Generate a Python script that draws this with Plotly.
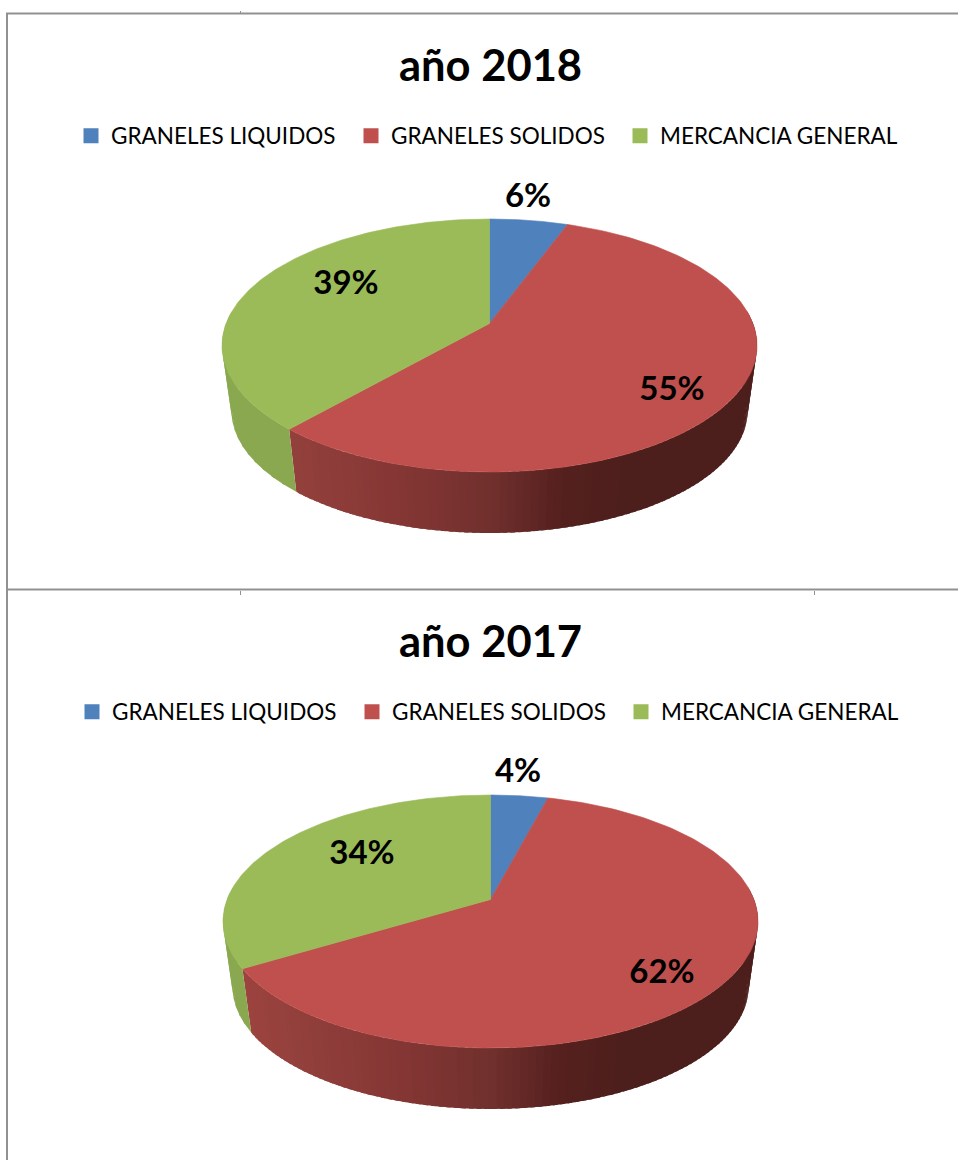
import math
import numpy as np
import plotly.graph_objects as go

# ---- data ----
categories = ["GRANELES LIQUIDOS", "GRANELES SOLIDOS", "MERCANCIA GENERAL"]
titles = ["año 2018", "año 2017"]
values_2018 = [5.6, 55.9, 38.5]
values_2017 = [4.1, 62.3, 33.6]
# percentages as printed on the chart
labels_2018 = ["6%", "55%", "39%"]
labels_2017 = ["4%", "62%", "34%"]

# ---- style ----
colors = ["#4f81bd", "#c0504d", "#9bbb59"]
W, H = 958, 1160
FONT = "Lato, Carlito, Calibri, sans-serif"
K = 0.174          # perspective shift of the pie centre
RX, RY = 267.5, 126.5
RXB, RYB, DROP = 258.0, 122.0, 65.5
red_stops = [(220, (160, 68, 64)), (290, (147, 64, 60)), (400, (132, 54, 52)),
             (490, (112, 48, 45)), (560, (85, 32, 30)), (620, (77, 31, 28)), (770, (77, 31, 28))]
side_flat = {0: (60, 96, 140), 2: (138, 168, 79)}

charts = [
    dict(title=titles[0], values=values_2018, labels=labels_2018, cx=489.5, cy=345.5, title_y=64, legend_y=136,
         legend_x=[71, 351, 620], label_xy=[(528, 198.5), (672, 391.5), (346, 285.5)],
         legends=["legend", "legend2", "legend3"]),
    dict(title=titles[1], values=values_2017, labels=labels_2017, cx=490.5, cy=921.5, title_y=640, legend_y=712,
         legend_x=[72, 352, 621], label_xy=[(518, 773.5), (662, 974.5), (362, 855.5)],
         legends=["legend4", "legend5", "legend6"]),
]


def rim(theta, cx, cy, rx, ry):
    u, v = np.sin(theta), np.cos(theta)
    d = 1 + K * v
    return cx + rx * u * math.sqrt(1 - K * K) / d, cy - ry * (v + K) / d


def side_color(i, x):
    if i != 1:
        return "rgb(%d,%d,%d)" % side_flat[i]
    xs = [s[0] for s in red_stops]
    rgb = [np.interp(x, xs, [s[1][c] for s in red_stops]) for c in range(3)]
    return "rgb(%d,%d,%d)" % tuple(int(round(c)) for c in rgb)


fig = go.Figure()

for ch in charts:
    vals = ch["values"]
    total = sum(vals)
    edges = np.cumsum([0] + vals) / total * 2 * math.pi
    cx, cy = ch["cx"], ch["cy"]

    # side wall (front half only); bands overlap so no seams show
    for i in range(3):
        a, b = max(edges[i], math.pi / 2 - 0.1), min(edges[i + 1], 3 * math.pi / 2 + 0.1)
        if b <= a:
            continue
        n = max(1, int((b - a) / (0.025 if i == 1 else 0.06)))
        steps = np.linspace(a, b, n + 1)
        for j in range(n):
            s0, s1 = steps[j], steps[j + 1]
            ts = np.array([s0, min(s1 + 0.015, b)])
            xt, yt = rim(ts, cx, cy, RX, RY)
            xb, yb = rim(ts[::-1], cx, cy + DROP, RXB, RYB)
            col = side_color(i, float(np.mean(xt)))
            fig.add_trace(go.Scatter(
                x=np.r_[xt, xb, xt[0]], y=np.r_[yt, yb, yt[0]], mode="lines",
                line=dict(width=0), fill="toself", fillcolor=col,
                showlegend=False, hoverinfo="skip"))

    # top face
    vx, vy = cx, cy - RY * K
    for i in range(3):
        ts = np.linspace(edges[i], edges[i + 1], 160)
        xt, yt = rim(ts, cx, cy, RX, RY)
        fig.add_trace(go.Scatter(
            x=np.r_[vx, xt, vx], y=np.r_[vy, yt, vy], mode="lines",
            line=dict(color=colors[i], width=0.6), fill="toself", fillcolor=colors[i],
            name=categories[i], showlegend=False, hoverinfo="skip"))

    # percentage labels
    fig.add_trace(go.Scatter(
        x=[p[0] for p in ch["label_xy"]], y=[p[1] for p in ch["label_xy"]],
        mode="text", text=ch["labels"],
        textposition="middle center",
        textfont=dict(family=FONT, size=33, color="#000000", weight="bold"),
        showlegend=False, hoverinfo="skip"))

    # legend entries
    for i, cat in enumerate(categories):
        fig.add_trace(go.Scatter(
            x=[None], y=[None], mode="markers", name=cat, legend=ch["legends"][i],
            marker=dict(symbol="square", size=15, color=colors[i])))

    fig.add_annotation(x=490, y=ch["title_y"], text=f"<b>{ch['title']}</b>", showarrow=False,
                       xref="x", yref="y", xanchor="center", yanchor="middle",
                       font=dict(family=FONT, size=43.5, color="#000000"))

legend_style = dict(orientation="h", xanchor="left", yanchor="middle", bgcolor="rgba(0,0,0,0)",
                    font=dict(family=FONT, size=22.5, color="#000000"), traceorder="normal",
                    itemsizing="trace", itemclick=False, itemdoubleclick=False)

frame = "#919191"
shapes = []
for x0, y0, x1, y1 in [(6, 13.5, W, 13.5), (7, 13, 7, H), (6, 589.5, W, 589.5)]:
    shapes.append(dict(type="line", xref="x", yref="y", x0=x0, y0=y0, x1=x1, y1=y1,
                       line=dict(color=frame, width=2), layer="below"))
for x0, y0, y1 in [(240.5, 11, 13), (240.5, 591, 595), (814.5, 591, 595)]:
    shapes.append(dict(type="line", xref="x", yref="y", x0=x0, y0=y0, x1=x0, y1=y1,
                       line=dict(color=frame, width=1), layer="below"))

legends = {}
for ch in charts:
    for name, lx in zip(ch["legends"], ch["legend_x"]):
        legends[name] = dict(x=lx / W, y=1 - ch["legend_y"] / H, **legend_style)

fig.update_layout(
    width=W, height=H, autosize=False,
    margin=dict(l=0, r=0, t=0, b=0, pad=0),
    paper_bgcolor="#ffffff", plot_bgcolor="#ffffff",
    xaxis=dict(range=[0, W], visible=False, fixedrange=True),
    yaxis=dict(range=[H, 0], visible=False, fixedrange=True),
    shapes=shapes,
    **legends,
)

fig.write_html("out.html", config=dict(displayModeBar=False),
               post_script="document.body.style.margin='0';document.documentElement.style.overflow='hidden';")
